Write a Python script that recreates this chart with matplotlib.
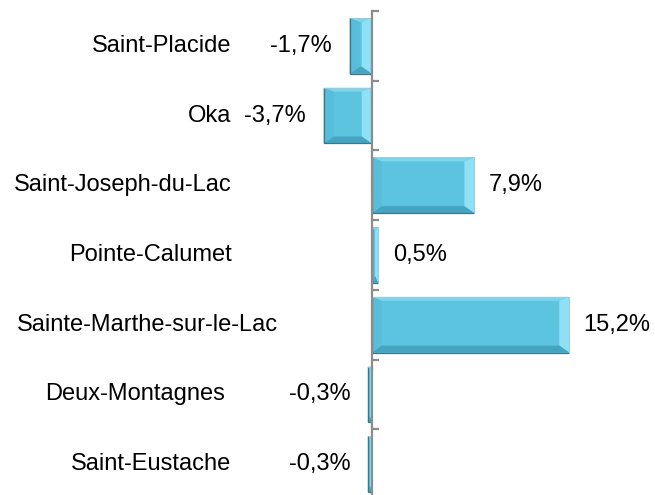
import matplotlib
matplotlib.use("Agg")
import matplotlib.pyplot as plt
from matplotlib.patches import Polygon
import numpy as np

# données
communes = ["Saint-Placide", "Oka", "Saint-Joseph-du-Lac", "Pointe-Calumet",
            "Sainte-Marthe-sur-le-Lac", "Deux-Montagnes", "Saint-Eustache"]
variation = [-1.7, -3.7, 7.9, 0.5, 15.2, -0.3, -0.3]
etiquettes = ["-1,7%", "-3,7%", "7,9%", "0,5%", "15,2%", "-0,3%", "-0,3%"]

# bord droit des noms de communes (en pixels)
nom_droite = [231, 231, 232, 232, 278, 225, 231]

plt.rcParams["font.family"] = ["Liberation Sans", "DejaVu Sans"]

W, H = 655, 495
fig = plt.figure(figsize=(W / 100, H / 100), dpi=100)
ax = fig.add_axes([0, 1 - 499 / H, 1, (499 - 11) / H])

y = np.arange(len(communes))
bars = ax.barh(y, variation, height=0.8, color="#5dc4e0",
               edgecolor="none", zorder=2)

ax.set_xlim(-371.7 / 13.0, (W - 371.7) / 13.0)
ax.set_ylim(len(communes) - 0.5, -0.5)

# effet biseauté
fig.canvas.draw()
inv = ax.transData.inverted()
for b in bars:
    x0, y0 = b.get_x(), b.get_y()
    x1, y1 = x0 + b.get_width(), y0 + b.get_height()
    (px0, py1), (px1, py0) = ax.transData.transform([(x0, y0), (x1, y1)])
    if px0 > px1:
        px0, px1 = px1, px0
    if py0 > py1:
        py0, py1 = py1, py0
    bw = min(10, (px1 - px0) / 2.0)
    bt = min(4, (py1 - py0) / 2.0)
    bb = min(7, (py1 - py0) / 2.0)
    outer = [(px0, py1), (px1, py1), (px1, py0), (px0, py0)]
    inner = [(px0 + bw, py1 - bt), (px1 - bw, py1 - bt),
             (px1 - bw, py0 + bb), (px0 + bw, py0 + bb)]
    faces = [
        ([outer[0], outer[1], inner[1], inner[0]], "#7fd4ea"),  # haut
        ([outer[1], outer[2], inner[2], inner[1]], "#8fe0f5"),  # droite
        ([outer[2], outer[3], inner[3], inner[2]], "#45a5c1"),  # bas
        ([outer[3], outer[0], inner[0], inner[3]], "#58bdda"),  # gauche
    ]
    for pts, col in faces:
        ax.add_patch(Polygon(inv.transform(pts), closed=True, facecolor=col,
                             edgecolor="none", zorder=3))
    # liseré sombre en bas et à gauche, clair en haut
    ax.add_patch(Polygon(inv.transform([outer[0], outer[3], outer[2]]),
                         closed=False, fill=False, edgecolor="#2f7b93",
                         linewidth=0.9, zorder=4))
    ax.add_patch(Polygon(inv.transform([outer[0], outer[1], outer[2]]),
                         closed=False, fill=False, edgecolor="#a9c6cf",
                         linewidth=0.7, zorder=4))

# étiquettes de valeurs
for yi, v, lab in zip(y, variation, etiquettes):
    if v >= 0:
        ax.annotate(lab, (v, yi), xytext=(10.4, 0), textcoords="offset points",
                    ha="left", va="center", fontsize=17)
    else:
        ax.annotate(lab, (v, yi), xytext=(-12.6, 0), textcoords="offset points",
                    ha="right", va="center", fontsize=17)

# noms des communes
for yi, nom, xr in zip(y, communes, nom_droite):
    ax.text(xr / W, yi, nom, transform=ax.get_yaxis_transform(),
            ha="right", va="center", fontsize=17)

# axe vertical
for s in ["top", "right", "bottom"]:
    ax.spines[s].set_visible(False)
ax.spines["left"].set_position(("data", 0))
ax.spines["left"].set_color("#8c8c8c")
ax.spines["left"].set_linewidth(1.6)
ax.spines["left"].set_zorder(5)
ax.set_yticks(np.arange(-0.5, len(communes), 1.0))
ax.set_yticklabels([])
ax.tick_params(axis="y", direction="in", length=5, width=1.6, color="#8c8c8c")
ax.set_xticks([])
ax.patch.set_alpha(0)

fig.savefig("out.png", dpi=100)
